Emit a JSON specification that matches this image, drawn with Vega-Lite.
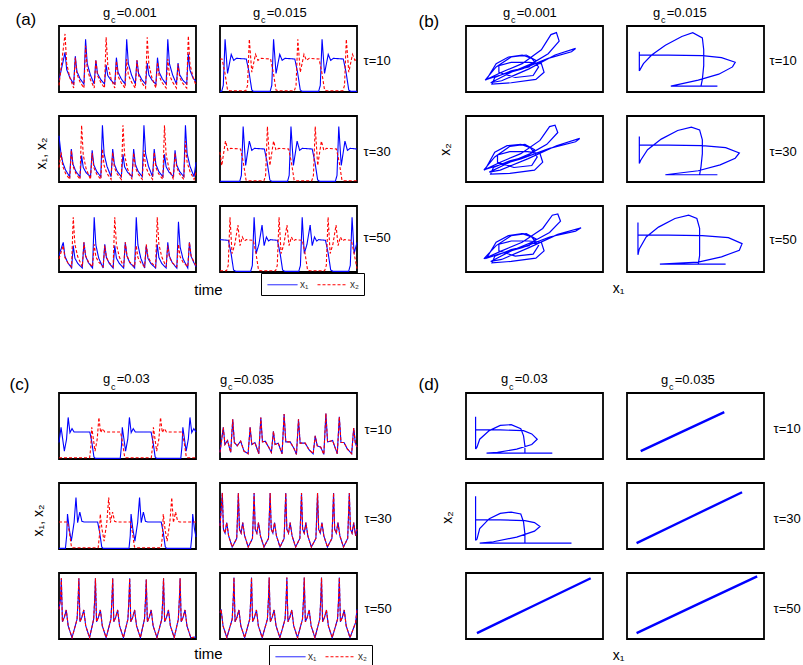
{
"$schema":"https://vega.github.io/schema/vega-lite/v6.json",
"background":"white",
"padding":{"left":8,"top":6,"right":0,"bottom":0},
"config":{
 "font":"Liberation Sans",
 "view":{"stroke":"#000","strokeWidth":1.8},
 "axis":{"domain":false,"ticks":false,"labels":false,"grid":false,"titleFontWeight":"normal","titleColor":"#000","titleFont":"Liberation Sans","titleFontSize":14},
 "title":{"fontWeight":"normal","fontSize":13,"font":"Liberation Sans","color":"#000","anchor":"start","frame":"group","offset":-5}
},
"datasets":{
"ts":[
{"p":"A11","t":0,"x1":0.18,"x2":0.10},{"p":"A11","t":4.4,"x1":0.60,"x2":0.88},{"p":"A11","t":5.6,"x1":0.34,"x2":0.43},{"p":"A11","t":7.9,"x1":0.22,"x2":0.22},{"p":"A11","t":10.7,"x1":0.12,"x2":0.06},
{"p":"A11","t":11.9,"x1":0.54,"x2":0.52},{"p":"A11","t":13.1,"x1":0.31,"x2":0.27},{"p":"A11","t":15.4,"x1":0.20,"x2":0.15},{"p":"A11","t":18.2,"x1":0.12,"x2":0.06},
{"p":"A11","t":19.4,"x1":0.80,"x2":0.70},{"p":"A11","t":20.6,"x1":0.43,"x2":0.35},{"p":"A11","t":22.9,"x1":0.26,"x2":0.19},{"p":"A11","t":25.7,"x1":0.12,"x2":0.06},
{"p":"A11","t":26.9,"x1":0.48,"x2":0.49},{"p":"A11","t":28.1,"x1":0.28,"x2":0.25},{"p":"A11","t":30.4,"x1":0.19,"x2":0.15},{"p":"A11","t":33.2,"x1":0.12,"x2":0.06},
{"p":"A11","t":34.4,"x1":0.41,"x2":0.83},{"p":"A11","t":35.6,"x1":0.25,"x2":0.41},{"p":"A11","t":37.9,"x1":0.18,"x2":0.21},{"p":"A11","t":40.7,"x1":0.12,"x2":0.06},
{"p":"A11","t":41.9,"x1":0.52,"x2":0.47},{"p":"A11","t":43.1,"x1":0.30,"x2":0.24},{"p":"A11","t":45.4,"x1":0.20,"x2":0.14},{"p":"A11","t":48.2,"x1":0.12,"x2":0.06},
{"p":"A11","t":49.4,"x1":0.80,"x2":0.50},{"p":"A11","t":50.6,"x1":0.43,"x2":0.26},{"p":"A11","t":52.9,"x1":0.26,"x2":0.15},{"p":"A11","t":55.7,"x1":0.12,"x2":0.06},
{"p":"A11","t":56.9,"x1":0.48,"x2":0.48},{"p":"A11","t":58.1,"x1":0.28,"x2":0.25},{"p":"A11","t":60.4,"x1":0.19,"x2":0.14},{"p":"A11","t":63.2,"x1":0.12,"x2":0.06},
{"p":"A11","t":64.4,"x1":0.44,"x2":0.83},{"p":"A11","t":65.6,"x1":0.26,"x2":0.41},{"p":"A11","t":67.9,"x1":0.18,"x2":0.21},{"p":"A11","t":70.7,"x1":0.12,"x2":0.06},
{"p":"A11","t":71.9,"x1":0.52,"x2":0.45},{"p":"A11","t":73.1,"x1":0.30,"x2":0.24},{"p":"A11","t":75.4,"x1":0.20,"x2":0.14},{"p":"A11","t":78.2,"x1":0.12,"x2":0.06},
{"p":"A11","t":79.4,"x1":0.80,"x2":0.50},{"p":"A11","t":80.6,"x1":0.43,"x2":0.26},{"p":"A11","t":82.9,"x1":0.26,"x2":0.15},{"p":"A11","t":85.7,"x1":0.12,"x2":0.06},
{"p":"A11","t":86.9,"x1":0.44,"x2":0.42},{"p":"A11","t":88.1,"x1":0.26,"x2":0.22},{"p":"A11","t":90.4,"x1":0.18,"x2":0.13},{"p":"A11","t":93.2,"x1":0.12,"x2":0.06},
{"p":"A11","t":94.4,"x1":0.58,"x2":0.85},{"p":"A11","t":95.6,"x1":0.33,"x2":0.42},{"p":"A11","t":97.9,"x1":0.21,"x2":0.22},{"p":"A11","t":100,"x1":0.16,"x2":0.10},

{"p":"A21","t":0,"x1":0.70,"x2":0.22},{"p":"A21","t":1.5,"x1":0.42,"x2":0.45},{"p":"A21","t":2.7,"x1":0.30,"x2":0.24},{"p":"A21","t":4.8,"x1":0.18,"x2":0.13},{"p":"A21","t":7.8,"x1":0.08,"x2":0.04},
{"p":"A21","t":9.0,"x1":0.50,"x2":0.48},{"p":"A21","t":10.2,"x1":0.27,"x2":0.24},{"p":"A21","t":12.3,"x1":0.16,"x2":0.13},{"p":"A21","t":15.3,"x1":0.08,"x2":0.04},
{"p":"A21","t":16.5,"x1":0.40,"x2":0.86},{"p":"A21","t":17.7,"x1":0.22,"x2":0.41},{"p":"A21","t":19.8,"x1":0.14,"x2":0.20},{"p":"A21","t":23.0,"x1":0.08,"x2":0.04},
{"p":"A21","t":24.2,"x1":0.48,"x2":0.44},{"p":"A21","t":25.4,"x1":0.26,"x2":0.22},{"p":"A21","t":27.5,"x1":0.16,"x2":0.12},{"p":"A21","t":30.5,"x1":0.08,"x2":0.04},
{"p":"A21","t":31.7,"x1":0.86,"x2":0.50},{"p":"A21","t":32.9,"x1":0.43,"x2":0.25},{"p":"A21","t":35.0,"x1":0.24,"x2":0.13},{"p":"A21","t":38.0,"x1":0.08,"x2":0.04},
{"p":"A21","t":39.2,"x1":0.50,"x2":0.45},{"p":"A21","t":40.4,"x1":0.27,"x2":0.22},{"p":"A21","t":42.5,"x1":0.16,"x2":0.12},{"p":"A21","t":45.5,"x1":0.08,"x2":0.04},
{"p":"A21","t":46.7,"x1":0.42,"x2":0.86},{"p":"A21","t":47.9,"x1":0.23,"x2":0.41},{"p":"A21","t":50.0,"x1":0.15,"x2":0.20},{"p":"A21","t":53.3,"x1":0.08,"x2":0.04},
{"p":"A21","t":54.5,"x1":0.50,"x2":0.44},{"p":"A21","t":55.7,"x1":0.27,"x2":0.22},{"p":"A21","t":57.8,"x1":0.16,"x2":0.12},{"p":"A21","t":60.8,"x1":0.08,"x2":0.04},
{"p":"A21","t":62.0,"x1":0.86,"x2":0.48},{"p":"A21","t":63.2,"x1":0.43,"x2":0.24},{"p":"A21","t":65.3,"x1":0.24,"x2":0.13},{"p":"A21","t":68.3,"x1":0.08,"x2":0.04},
{"p":"A21","t":69.5,"x1":0.50,"x2":0.45},{"p":"A21","t":70.7,"x1":0.27,"x2":0.22},{"p":"A21","t":72.8,"x1":0.16,"x2":0.12},{"p":"A21","t":75.8,"x1":0.08,"x2":0.04},
{"p":"A21","t":77.0,"x1":0.42,"x2":0.86},{"p":"A21","t":78.2,"x1":0.23,"x2":0.41},{"p":"A21","t":80.3,"x1":0.15,"x2":0.20},{"p":"A21","t":83.5,"x1":0.08,"x2":0.04},
{"p":"A21","t":84.7,"x1":0.48,"x2":0.44},{"p":"A21","t":85.9,"x1":0.26,"x2":0.22},{"p":"A21","t":88.0,"x1":0.16,"x2":0.12},{"p":"A21","t":91.1,"x1":0.08,"x2":0.04},
{"p":"A21","t":92.3,"x1":0.86,"x2":0.62},{"p":"A21","t":93.5,"x1":0.43,"x2":0.30},{"p":"A21","t":95.6,"x1":0.24,"x2":0.16},{"p":"A21","t":98.6,"x1":0.08,"x2":0.04},{"p":"A21","t":100,"x1":0.30,"x2":0.15},

{"p":"A31","t":0,"x1":0.25,"x2":0.20},{"p":"A31","t":3.1,"x1":0.45,"x2":0.40},{"p":"A31","t":4.3,"x1":0.24,"x2":0.22},{"p":"A31","t":6.4,"x1":0.14,"x2":0.14},{"p":"A31","t":9.2,"x1":0.06,"x2":0.08},
{"p":"A31","t":10.4,"x1":0.40,"x2":0.83},{"p":"A31","t":11.6,"x1":0.21,"x2":0.42},{"p":"A31","t":13.7,"x1":0.13,"x2":0.23},{"p":"A31","t":17.0,"x1":0.06,"x2":0.08},
{"p":"A31","t":18.2,"x1":0.45,"x2":0.45},{"p":"A31","t":19.4,"x1":0.24,"x2":0.25},{"p":"A31","t":21.5,"x1":0.14,"x2":0.15},{"p":"A31","t":24.5,"x1":0.06,"x2":0.08},
{"p":"A31","t":25.7,"x1":0.83,"x2":0.42},{"p":"A31","t":26.9,"x1":0.41,"x2":0.23},{"p":"A31","t":29.0,"x1":0.21,"x2":0.15},{"p":"A31","t":32.2,"x1":0.06,"x2":0.08},
{"p":"A31","t":33.4,"x1":0.42,"x2":0.40},{"p":"A31","t":34.6,"x1":0.22,"x2":0.22},{"p":"A31","t":36.7,"x1":0.13,"x2":0.14},{"p":"A31","t":39.5,"x1":0.06,"x2":0.08},
{"p":"A31","t":40.7,"x1":0.40,"x2":0.83},{"p":"A31","t":41.9,"x1":0.21,"x2":0.42},{"p":"A31","t":44.0,"x1":0.13,"x2":0.23},{"p":"A31","t":47.2,"x1":0.06,"x2":0.08},
{"p":"A31","t":48.4,"x1":0.45,"x2":0.45},{"p":"A31","t":49.6,"x1":0.24,"x2":0.25},{"p":"A31","t":51.7,"x1":0.14,"x2":0.15},{"p":"A31","t":55.2,"x1":0.06,"x2":0.08},
{"p":"A31","t":56.4,"x1":0.83,"x2":0.40},{"p":"A31","t":57.6,"x1":0.41,"x2":0.22},{"p":"A31","t":59.7,"x1":0.21,"x2":0.14},{"p":"A31","t":62.5,"x1":0.06,"x2":0.08},
{"p":"A31","t":63.7,"x1":0.40,"x2":0.42},{"p":"A31","t":64.9,"x1":0.21,"x2":0.23},{"p":"A31","t":67.0,"x1":0.13,"x2":0.15},{"p":"A31","t":70.5,"x1":0.06,"x2":0.08},
{"p":"A31","t":71.7,"x1":0.42,"x2":0.83},{"p":"A31","t":72.9,"x1":0.22,"x2":0.42},{"p":"A31","t":75.0,"x1":0.13,"x2":0.23},{"p":"A31","t":78.2,"x1":0.06,"x2":0.08},
{"p":"A31","t":79.4,"x1":0.45,"x2":0.40},{"p":"A31","t":80.6,"x1":0.24,"x2":0.22},{"p":"A31","t":82.7,"x1":0.14,"x2":0.14},{"p":"A31","t":86.0,"x1":0.06,"x2":0.08},
{"p":"A31","t":87.2,"x1":0.76,"x2":0.42},{"p":"A31","t":88.4,"x1":0.38,"x2":0.23},{"p":"A31","t":90.5,"x1":0.20,"x2":0.15},{"p":"A31","t":94.0,"x1":0.06,"x2":0.08},
{"p":"A31","t":95.2,"x1":0.45,"x2":0.45},{"p":"A31","t":96.4,"x1":0.24,"x2":0.25},{"p":"A31","t":98.5,"x1":0.14,"x2":0.15},{"p":"A31","t":100,"x1":0.08,"x2":0.10},

{"p":"A12","t":0,"x1":0.01},{"p":"A12","t":1.2,"x1":0.01},{"p":"A12","t":2.4,"x1":0.10},{"p":"A12","t":3.7,"x1":0.80},{"p":"A12","t":5.5,"x1":0.28},{"p":"A12","t":8.2,"x1":0.57},{"p":"A12","t":10,"x1":0.48},{"p":"A12","t":12,"x1":0.51},{"p":"A12","t":19.2,"x1":0.50},{"p":"A12","t":21.2,"x1":0.30},{"p":"A12","t":23.2,"x1":0.03},{"p":"A12","t":24.5,"x1":0.01},
{"p":"A12","t":36.6,"x1":0.01},{"p":"A12","t":37.8,"x1":0.10},{"p":"A12","t":39.1,"x1":0.80},{"p":"A12","t":40.9,"x1":0.28},{"p":"A12","t":43.6,"x1":0.57},{"p":"A12","t":45.4,"x1":0.48},{"p":"A12","t":47.4,"x1":0.51},{"p":"A12","t":54.6,"x1":0.50},{"p":"A12","t":56.6,"x1":0.30},{"p":"A12","t":58.6,"x1":0.03},{"p":"A12","t":60,"x1":0.01},
{"p":"A12","t":72,"x1":0.01},{"p":"A12","t":73.2,"x1":0.10},{"p":"A12","t":74.5,"x1":0.80},{"p":"A12","t":76.3,"x1":0.28},{"p":"A12","t":79,"x1":0.57},{"p":"A12","t":80.8,"x1":0.48},{"p":"A12","t":82.8,"x1":0.51},{"p":"A12","t":90,"x1":0.50},{"p":"A12","t":92,"x1":0.30},{"p":"A12","t":94,"x1":0.03},{"p":"A12","t":95.5,"x1":0.01},{"p":"A12","t":100,"x1":0.01},
{"p":"A12","t":0,"x2":0.50},{"p":"A12","t":1.5,"x2":0.50},{"p":"A12","t":3.5,"x2":0.30},{"p":"A12","t":5.5,"x2":0.03},{"p":"A12","t":7,"x2":0.02},{"p":"A12","t":18.9,"x2":0.02},{"p":"A12","t":20.1,"x2":0.10},{"p":"A12","t":21.4,"x2":0.80},{"p":"A12","t":23.2,"x2":0.30},{"p":"A12","t":25.9,"x2":0.57},{"p":"A12","t":27.7,"x2":0.48},{"p":"A12","t":29.7,"x2":0.51},{"p":"A12","t":36.9,"x2":0.50},{"p":"A12","t":38.9,"x2":0.30},{"p":"A12","t":40.9,"x2":0.03},{"p":"A12","t":42.4,"x2":0.02},
{"p":"A12","t":54.3,"x2":0.02},{"p":"A12","t":55.5,"x2":0.10},{"p":"A12","t":56.8,"x2":0.80},{"p":"A12","t":58.6,"x2":0.30},{"p":"A12","t":61.3,"x2":0.57},{"p":"A12","t":63.1,"x2":0.48},{"p":"A12","t":65.1,"x2":0.51},{"p":"A12","t":72.3,"x2":0.50},{"p":"A12","t":74.3,"x2":0.30},{"p":"A12","t":76.3,"x2":0.03},{"p":"A12","t":77.8,"x2":0.02},
{"p":"A12","t":89.7,"x2":0.02},{"p":"A12","t":90.9,"x2":0.10},{"p":"A12","t":92.2,"x2":0.80},{"p":"A12","t":94,"x2":0.30},{"p":"A12","t":96.7,"x2":0.57},{"p":"A12","t":98.5,"x2":0.48},{"p":"A12","t":100,"x2":0.50},

{"p":"A22","t":0,"x1":0.01},{"p":"A22","t":14.4,"x1":0.01},{"p":"A22","t":15.6,"x1":0.10},{"p":"A22","t":16.9,"x1":0.84},{"p":"A22","t":18.7,"x1":0.25},{"p":"A22","t":21.4,"x1":0.62},{"p":"A22","t":23.2,"x1":0.48},{"p":"A22","t":25.2,"x1":0.51},{"p":"A22","t":32.4,"x1":0.50},{"p":"A22","t":34.4,"x1":0.30},{"p":"A22","t":36.4,"x1":0.03},{"p":"A22","t":37.9,"x1":0.01},
{"p":"A22","t":49.3,"x1":0.01},{"p":"A22","t":50.5,"x1":0.10},{"p":"A22","t":51.8,"x1":0.84},{"p":"A22","t":53.6,"x1":0.25},{"p":"A22","t":56.3,"x1":0.62},{"p":"A22","t":58.1,"x1":0.48},{"p":"A22","t":60.1,"x1":0.51},{"p":"A22","t":67.3,"x1":0.50},{"p":"A22","t":69.3,"x1":0.30},{"p":"A22","t":71.3,"x1":0.03},{"p":"A22","t":72.8,"x1":0.01},
{"p":"A22","t":84.2,"x1":0.01},{"p":"A22","t":85.4,"x1":0.10},{"p":"A22","t":86.7,"x1":0.84},{"p":"A22","t":88.5,"x1":0.25},{"p":"A22","t":91.2,"x1":0.62},{"p":"A22","t":93,"x1":0.48},{"p":"A22","t":95,"x1":0.51},{"p":"A22","t":100,"x1":0.50},
{"p":"A22","t":0,"x2":0.45},{"p":"A22","t":1.3,"x2":0.25},{"p":"A22","t":4,"x2":0.62},{"p":"A22","t":5.8,"x2":0.48},{"p":"A22","t":7.8,"x2":0.51},{"p":"A22","t":15,"x2":0.50},{"p":"A22","t":17,"x2":0.30},{"p":"A22","t":19,"x2":0.03},{"p":"A22","t":20.5,"x2":0.02},
{"p":"A22","t":32.1,"x2":0.02},{"p":"A22","t":33.3,"x2":0.10},{"p":"A22","t":34.6,"x2":0.84},{"p":"A22","t":36.4,"x2":0.25},{"p":"A22","t":39.1,"x2":0.62},{"p":"A22","t":40.9,"x2":0.48},{"p":"A22","t":42.9,"x2":0.51},{"p":"A22","t":50.1,"x2":0.50},{"p":"A22","t":52.1,"x2":0.30},{"p":"A22","t":54.1,"x2":0.03},{"p":"A22","t":55.6,"x2":0.02},
{"p":"A22","t":67,"x2":0.02},{"p":"A22","t":68.2,"x2":0.10},{"p":"A22","t":69.5,"x2":0.84},{"p":"A22","t":71.3,"x2":0.25},{"p":"A22","t":74,"x2":0.62},{"p":"A22","t":75.8,"x2":0.48},{"p":"A22","t":77.8,"x2":0.51},{"p":"A22","t":85,"x2":0.50},{"p":"A22","t":87,"x2":0.30},{"p":"A22","t":89,"x2":0.03},{"p":"A22","t":90.5,"x2":0.02},{"p":"A22","t":100,"x2":0.02},

{"p":"A32","t":0,"x1":0.49},{"p":"A32","t":6.1,"x1":0.48},{"p":"A32","t":8.1,"x1":0.28},{"p":"A32","t":9.9,"x1":0.03},{"p":"A32","t":11.5,"x1":0.01},{"p":"A32","t":22.4,"x1":0.01},{"p":"A32","t":23.6,"x1":0.10},{"p":"A32","t":24.9,"x1":0.83},{"p":"A32","t":26.4,"x1":0.28},{"p":"A32","t":28.4,"x1":0.42},{"p":"A32","t":30.7,"x1":0.71},{"p":"A32","t":32.2,"x1":0.40},{"p":"A32","t":33.9,"x1":0.53},{"p":"A32","t":35.4,"x1":0.47},{"p":"A32","t":36.9,"x1":0.49},{"p":"A32","t":41.9,"x1":0.48},{"p":"A32","t":43.9,"x1":0.28},{"p":"A32","t":45.7,"x1":0.03},{"p":"A32","t":47.3,"x1":0.01},
{"p":"A32","t":57.5,"x1":0.01},{"p":"A32","t":58.7,"x1":0.10},{"p":"A32","t":60,"x1":0.83},{"p":"A32","t":61.5,"x1":0.28},{"p":"A32","t":63.5,"x1":0.42},{"p":"A32","t":65.8,"x1":0.71},{"p":"A32","t":67.3,"x1":0.40},{"p":"A32","t":69,"x1":0.53},{"p":"A32","t":70.5,"x1":0.47},{"p":"A32","t":72,"x1":0.49},{"p":"A32","t":77,"x1":0.48},{"p":"A32","t":79,"x1":0.28},{"p":"A32","t":80.8,"x1":0.03},{"p":"A32","t":82.4,"x1":0.01},{"p":"A32","t":93.9,"x1":0.01},{"p":"A32","t":95.1,"x1":0.10},{"p":"A32","t":96.4,"x1":0.83},{"p":"A32","t":97.9,"x1":0.28},{"p":"A32","t":100,"x1":0.45},
{"p":"A32","t":0,"x2":0.02},{"p":"A32","t":4.8,"x2":0.02},{"p":"A32","t":6,"x2":0.10},{"p":"A32","t":7.3,"x2":0.83},{"p":"A32","t":8.8,"x2":0.28},{"p":"A32","t":10.8,"x2":0.42},{"p":"A32","t":13.1,"x2":0.71},{"p":"A32","t":14.6,"x2":0.40},{"p":"A32","t":16.3,"x2":0.53},{"p":"A32","t":17.8,"x2":0.47},{"p":"A32","t":19.3,"x2":0.49},{"p":"A32","t":24.3,"x2":0.48},{"p":"A32","t":26.3,"x2":0.28},{"p":"A32","t":28.1,"x2":0.03},{"p":"A32","t":29.7,"x2":0.02},
{"p":"A32","t":40.6,"x2":0.02},{"p":"A32","t":41.8,"x2":0.10},{"p":"A32","t":43.1,"x2":0.83},{"p":"A32","t":44.6,"x2":0.28},{"p":"A32","t":46.6,"x2":0.42},{"p":"A32","t":48.9,"x2":0.71},{"p":"A32","t":50.4,"x2":0.40},{"p":"A32","t":52.1,"x2":0.53},{"p":"A32","t":53.6,"x2":0.47},{"p":"A32","t":55.1,"x2":0.49},{"p":"A32","t":60.1,"x2":0.48},{"p":"A32","t":62.1,"x2":0.28},{"p":"A32","t":63.9,"x2":0.03},{"p":"A32","t":65.5,"x2":0.02},
{"p":"A32","t":76.4,"x2":0.02},{"p":"A32","t":77.6,"x2":0.10},{"p":"A32","t":78.9,"x2":0.83},{"p":"A32","t":80.4,"x2":0.28},{"p":"A32","t":82.4,"x2":0.42},{"p":"A32","t":84.7,"x2":0.71},{"p":"A32","t":86.2,"x2":0.40},{"p":"A32","t":87.9,"x2":0.53},{"p":"A32","t":89.4,"x2":0.47},{"p":"A32","t":90.9,"x2":0.49},{"p":"A32","t":95.9,"x2":0.48},{"p":"A32","t":97.9,"x2":0.28},{"p":"A32","t":100,"x2":0.05},

{"p":"C11","t":0,"x1":0.25},{"p":"C11","t":1.5,"x1":0.48},{"p":"C11","t":2.7,"x1":0.30},{"p":"C11","t":3.9,"x1":0.12},{"p":"C11","t":5.5,"x1":0.30},{"p":"C11","t":6.7,"x1":0.63},{"p":"C11","t":8,"x1":0.40},{"p":"C11","t":9.5,"x1":0.46},{"p":"C11","t":11,"x1":0.41},{"p":"C11","t":22.5,"x1":0.41},{"p":"C11","t":24,"x1":0.25},{"p":"C11","t":25.5,"x1":0.03},{"p":"C11","t":26.5,"x1":0.01},
{"p":"C11","t":44.7,"x1":0.01},{"p":"C11","t":45.6,"x1":0.20},{"p":"C11","t":46.2,"x1":0.48},{"p":"C11","t":47.4,"x1":0.30},{"p":"C11","t":48.6,"x1":0.12},{"p":"C11","t":50.2,"x1":0.30},{"p":"C11","t":51.4,"x1":0.63},{"p":"C11","t":52.7,"x1":0.40},{"p":"C11","t":54.2,"x1":0.46},{"p":"C11","t":55.7,"x1":0.41},{"p":"C11","t":67.2,"x1":0.41},{"p":"C11","t":68.7,"x1":0.25},{"p":"C11","t":70.2,"x1":0.03},{"p":"C11","t":71.2,"x1":0.01},
{"p":"C11","t":88.9,"x1":0.01},{"p":"C11","t":89.8,"x1":0.20},{"p":"C11","t":90.4,"x1":0.48},{"p":"C11","t":91.6,"x1":0.30},{"p":"C11","t":92.8,"x1":0.12},{"p":"C11","t":94.4,"x1":0.30},{"p":"C11","t":95.6,"x1":0.63},{"p":"C11","t":96.9,"x1":0.40},{"p":"C11","t":98.4,"x1":0.46},{"p":"C11","t":100,"x1":0.41},
{"p":"C11","t":0,"x2":0.02},{"p":"C11","t":22.4,"x2":0.02},{"p":"C11","t":23.3,"x2":0.20},{"p":"C11","t":23.9,"x2":0.48},{"p":"C11","t":25.1,"x2":0.30},{"p":"C11","t":26.3,"x2":0.12},{"p":"C11","t":27.9,"x2":0.30},{"p":"C11","t":29.1,"x2":0.63},{"p":"C11","t":30.4,"x2":0.40},{"p":"C11","t":31.9,"x2":0.46},{"p":"C11","t":33.4,"x2":0.41},{"p":"C11","t":44.9,"x2":0.41},{"p":"C11","t":46.4,"x2":0.25},{"p":"C11","t":47.9,"x2":0.03},{"p":"C11","t":48.9,"x2":0.02},
{"p":"C11","t":67.4,"x2":0.02},{"p":"C11","t":68.3,"x2":0.20},{"p":"C11","t":68.9,"x2":0.48},{"p":"C11","t":70.1,"x2":0.30},{"p":"C11","t":71.3,"x2":0.12},{"p":"C11","t":72.9,"x2":0.30},{"p":"C11","t":74.1,"x2":0.63},{"p":"C11","t":75.4,"x2":0.40},{"p":"C11","t":76.9,"x2":0.46},{"p":"C11","t":78.4,"x2":0.41},{"p":"C11","t":89.9,"x2":0.41},{"p":"C11","t":91.4,"x2":0.25},{"p":"C11","t":92.9,"x2":0.03},{"p":"C11","t":93.9,"x2":0.02},{"p":"C11","t":100,"x2":0.02},

{"p":"C21","t":0,"x1":0.01},{"p":"C21","t":4.7,"x1":0.01},{"p":"C21","t":5.6,"x1":0.20},{"p":"C21","t":6.2,"x1":0.53},{"p":"C21","t":7.5,"x1":0.30},{"p":"C21","t":9,"x1":0.12},{"p":"C21","t":11,"x1":0.40},{"p":"C21","t":12.4,"x1":0.78},{"p":"C21","t":13.6,"x1":0.40},{"p":"C21","t":15.2,"x1":0.56},{"p":"C21","t":16.7,"x1":0.42},{"p":"C21","t":18.2,"x1":0.41},{"p":"C21","t":28.2,"x1":0.41},{"p":"C21","t":29.7,"x1":0.25},{"p":"C21","t":31.2,"x1":0.03},{"p":"C21","t":32.2,"x1":0.01},
{"p":"C21","t":51.1,"x1":0.01},{"p":"C21","t":52,"x1":0.20},{"p":"C21","t":52.6,"x1":0.53},{"p":"C21","t":53.9,"x1":0.30},{"p":"C21","t":55.4,"x1":0.12},{"p":"C21","t":57.4,"x1":0.40},{"p":"C21","t":58.8,"x1":0.78},{"p":"C21","t":60,"x1":0.40},{"p":"C21","t":61.6,"x1":0.56},{"p":"C21","t":63.1,"x1":0.42},{"p":"C21","t":64.6,"x1":0.41},{"p":"C21","t":74.6,"x1":0.41},{"p":"C21","t":76.1,"x1":0.25},{"p":"C21","t":77.6,"x1":0.03},{"p":"C21","t":78.6,"x1":0.01},
{"p":"C21","t":96.1,"x1":0.01},{"p":"C21","t":97,"x1":0.20},{"p":"C21","t":97.6,"x1":0.53},{"p":"C21","t":98.9,"x1":0.30},{"p":"C21","t":100,"x1":0.18},
{"p":"C21","t":0,"x2":0.41},{"p":"C21","t":6.1,"x2":0.41},{"p":"C21","t":7.6,"x2":0.25},{"p":"C21","t":9.1,"x2":0.03},{"p":"C21","t":10.1,"x2":0.02},{"p":"C21","t":28.6,"x2":0.02},{"p":"C21","t":29.5,"x2":0.20},{"p":"C21","t":30.1,"x2":0.53},{"p":"C21","t":31.4,"x2":0.30},{"p":"C21","t":32.9,"x2":0.12},{"p":"C21","t":34.9,"x2":0.40},{"p":"C21","t":36.3,"x2":0.78},{"p":"C21","t":37.5,"x2":0.40},{"p":"C21","t":39.1,"x2":0.56},{"p":"C21","t":40.6,"x2":0.42},{"p":"C21","t":42.1,"x2":0.41},{"p":"C21","t":52.1,"x2":0.41},{"p":"C21","t":53.6,"x2":0.25},{"p":"C21","t":55.1,"x2":0.03},{"p":"C21","t":56.1,"x2":0.02},
{"p":"C21","t":74.6,"x2":0.02},{"p":"C21","t":75.5,"x2":0.20},{"p":"C21","t":76.1,"x2":0.53},{"p":"C21","t":77.4,"x2":0.30},{"p":"C21","t":78.9,"x2":0.12},{"p":"C21","t":80.9,"x2":0.40},{"p":"C21","t":82.3,"x2":0.78},{"p":"C21","t":83.5,"x2":0.40},{"p":"C21","t":85.1,"x2":0.56},{"p":"C21","t":86.6,"x2":0.42},{"p":"C21","t":88.1,"x2":0.41},{"p":"C21","t":100,"x2":0.41},

{"p":"C12","t":0,"x1":0.10,"x2":0.10},{"p":"C12","t":2.4,"x1":0.48,"x2":0.48},{"p":"C12","t":3.6,"x1":0.22,"x2":0.22},{"p":"C12","t":5.5,"x1":0.28,"x2":0.28},{"p":"C12","t":7.8,"x1":0.10,"x2":0.10},{"p":"C12","t":9.3,"x1":0.60,"x2":0.60},{"p":"C12","t":10.5,"x1":0.25,"x2":0.25},{"p":"C12","t":12.5,"x1":0.20,"x2":0.20},{"p":"C12","t":15.1,"x1":0.27,"x2":0.27},{"p":"C12","t":17.5,"x1":0.12,"x2":0.12},{"p":"C12","t":20.5,"x1":0.08,"x2":0.08},
{"p":"C12","t":22,"x1":0.48,"x2":0.48},{"p":"C12","t":23.2,"x1":0.22,"x2":0.22},{"p":"C12","t":25.5,"x1":0.25,"x2":0.25},{"p":"C12","t":28.3,"x1":0.08,"x2":0.08},{"p":"C12","t":29.8,"x1":0.63,"x2":0.63},{"p":"C12","t":31,"x1":0.26,"x2":0.26},{"p":"C12","t":33,"x1":0.27,"x2":0.27},{"p":"C12","t":35.5,"x1":0.18,"x2":0.18},{"p":"C12","t":37.5,"x1":0.10,"x2":0.10},
{"p":"C12","t":39,"x1":0.42,"x2":0.42},{"p":"C12","t":40.2,"x1":0.22,"x2":0.22},{"p":"C12","t":42.5,"x1":0.24,"x2":0.24},{"p":"C12","t":45.3,"x1":0.08,"x2":0.08},{"p":"C12","t":46.8,"x1":0.68,"x2":0.68},{"p":"C12","t":48,"x1":0.26,"x2":0.26},{"p":"C12","t":51.2,"x1":0.26,"x2":0.26},{"p":"C12","t":54,"x1":0.16,"x2":0.16},{"p":"C12","t":55.8,"x1":0.07,"x2":0.07},
{"p":"C12","t":57.3,"x1":0.60,"x2":0.60},{"p":"C12","t":58.5,"x1":0.24,"x2":0.24},{"p":"C12","t":62.2,"x1":0.24,"x2":0.24},{"p":"C12","t":65,"x1":0.14,"x2":0.14},{"p":"C12","t":68,"x1":0.08,"x2":0.08},{"p":"C12","t":69.5,"x1":0.35,"x2":0.35},{"p":"C12","t":71,"x1":0.20,"x2":0.20},{"p":"C12","t":73.5,"x1":0.18,"x2":0.18},{"p":"C12","t":75.8,"x1":0.07,"x2":0.07},
{"p":"C12","t":77.3,"x1":0.69,"x2":0.69},{"p":"C12","t":78.5,"x1":0.26,"x2":0.26},{"p":"C12","t":82.2,"x1":0.28,"x2":0.28},{"p":"C12","t":85.6,"x1":0.08,"x2":0.08},{"p":"C12","t":87.1,"x1":0.64,"x2":0.64},{"p":"C12","t":88.3,"x1":0.25,"x2":0.25},{"p":"C12","t":90.5,"x1":0.25,"x2":0.25},{"p":"C12","t":93,"x1":0.15,"x2":0.15},{"p":"C12","t":96.1,"x1":0.08,"x2":0.08},
{"p":"C12","t":97.6,"x1":0.47,"x2":0.47},{"p":"C12","t":98.8,"x1":0.24,"x2":0.24},{"p":"C12","t":100,"x1":0.18,"x2":0.18},

{"p":"C22","t":0,"x1":0.35,"x2":0.35},{"p":"C22","t":1.7,"x1":0.85,"x2":0.85},{"p":"C22","t":2.5,"x1":0.30,"x2":0.30},{"p":"C22","t":3.7,"x1":0.24,"x2":0.24},{"p":"C22","t":4.9,"x1":0.40,"x2":0.40},{"p":"C22","t":6.3,"x1":0.20,"x2":0.20},{"p":"C22","t":8.9,"x1":0.03,"x2":0.03},{"p":"C22","t":12.2,"x1":0.16,"x2":0.16},
{"p":"C22","t":13.4,"x1":0.85,"x2":0.85},{"p":"C22","t":14.2,"x1":0.30,"x2":0.30},{"p":"C22","t":15.4,"x1":0.24,"x2":0.24},{"p":"C22","t":16.6,"x1":0.40,"x2":0.40},{"p":"C22","t":18,"x1":0.20,"x2":0.20},{"p":"C22","t":20.6,"x1":0.03,"x2":0.03},{"p":"C22","t":23.7,"x1":0.16,"x2":0.16},
{"p":"C22","t":24.9,"x1":0.85,"x2":0.85},{"p":"C22","t":25.7,"x1":0.30,"x2":0.30},{"p":"C22","t":26.9,"x1":0.24,"x2":0.24},{"p":"C22","t":28.1,"x1":0.40,"x2":0.40},{"p":"C22","t":29.5,"x1":0.20,"x2":0.20},{"p":"C22","t":32.1,"x1":0.03,"x2":0.03},{"p":"C22","t":35.4,"x1":0.16,"x2":0.16},
{"p":"C22","t":36.6,"x1":0.85,"x2":0.85},{"p":"C22","t":37.4,"x1":0.30,"x2":0.30},{"p":"C22","t":38.6,"x1":0.24,"x2":0.24},{"p":"C22","t":39.8,"x1":0.40,"x2":0.40},{"p":"C22","t":41.2,"x1":0.20,"x2":0.20},{"p":"C22","t":43.8,"x1":0.03,"x2":0.03},{"p":"C22","t":46.8,"x1":0.16,"x2":0.16},
{"p":"C22","t":48,"x1":0.85,"x2":0.85},{"p":"C22","t":48.8,"x1":0.30,"x2":0.30},{"p":"C22","t":50,"x1":0.24,"x2":0.24},{"p":"C22","t":51.2,"x1":0.40,"x2":0.40},{"p":"C22","t":52.6,"x1":0.20,"x2":0.20},{"p":"C22","t":55.2,"x1":0.03,"x2":0.03},{"p":"C22","t":58.3,"x1":0.16,"x2":0.16},
{"p":"C22","t":59.5,"x1":0.85,"x2":0.85},{"p":"C22","t":60.3,"x1":0.30,"x2":0.30},{"p":"C22","t":61.5,"x1":0.24,"x2":0.24},{"p":"C22","t":62.7,"x1":0.40,"x2":0.40},{"p":"C22","t":64.1,"x1":0.20,"x2":0.20},{"p":"C22","t":66.7,"x1":0.03,"x2":0.03},{"p":"C22","t":70,"x1":0.16,"x2":0.16},
{"p":"C22","t":71.2,"x1":0.85,"x2":0.85},{"p":"C22","t":72,"x1":0.30,"x2":0.30},{"p":"C22","t":73.2,"x1":0.24,"x2":0.24},{"p":"C22","t":74.4,"x1":0.40,"x2":0.40},{"p":"C22","t":75.8,"x1":0.20,"x2":0.20},{"p":"C22","t":78.4,"x1":0.03,"x2":0.03},{"p":"C22","t":81.7,"x1":0.16,"x2":0.16},
{"p":"C22","t":82.9,"x1":0.85,"x2":0.85},{"p":"C22","t":83.7,"x1":0.30,"x2":0.30},{"p":"C22","t":84.9,"x1":0.24,"x2":0.24},{"p":"C22","t":86.1,"x1":0.40,"x2":0.40},{"p":"C22","t":87.5,"x1":0.20,"x2":0.20},{"p":"C22","t":90.1,"x1":0.03,"x2":0.03},{"p":"C22","t":93.2,"x1":0.16,"x2":0.16},
{"p":"C22","t":94.4,"x1":0.85,"x2":0.85},{"p":"C22","t":95.2,"x1":0.30,"x2":0.30},{"p":"C22","t":96.4,"x1":0.24,"x2":0.24},{"p":"C22","t":97.6,"x1":0.40,"x2":0.40},{"p":"C22","t":99,"x1":0.20,"x2":0.20},{"p":"C22","t":100,"x1":0.30,"x2":0.30},

{"p":"C31","t":0,"x1":0.45,"x2":0.45},{"p":"C31","t":1.2,"x1":0.62,"x2":0.62},{"p":"C31","t":1.7,"x1":0.92,"x2":0.92},{"p":"C31","t":2.5,"x1":0.26,"x2":0.26},{"p":"C31","t":3.9,"x1":0.33,"x2":0.33},{"p":"C31","t":5.3,"x1":0.44,"x2":0.44},{"p":"C31","t":6.7,"x1":0.20,"x2":0.20},{"p":"C31","t":9.5,"x1":0.02,"x2":0.02},
{"p":"C31","t":13.2,"x1":0.30,"x2":0.30},{"p":"C31","t":14,"x1":0.62,"x2":0.62},{"p":"C31","t":14.5,"x1":0.92,"x2":0.92},{"p":"C31","t":15.3,"x1":0.26,"x2":0.26},{"p":"C31","t":16.7,"x1":0.33,"x2":0.33},{"p":"C31","t":18.1,"x1":0.44,"x2":0.44},{"p":"C31","t":19.5,"x1":0.20,"x2":0.20},{"p":"C31","t":22.3,"x1":0.02,"x2":0.02},
{"p":"C31","t":25.3,"x1":0.30,"x2":0.30},{"p":"C31","t":26.1,"x1":0.62,"x2":0.62},{"p":"C31","t":26.6,"x1":0.92,"x2":0.92},{"p":"C31","t":27.4,"x1":0.26,"x2":0.26},{"p":"C31","t":28.8,"x1":0.33,"x2":0.33},{"p":"C31","t":30.2,"x1":0.44,"x2":0.44},{"p":"C31","t":31.6,"x1":0.20,"x2":0.20},{"p":"C31","t":34.4,"x1":0.02,"x2":0.02},
{"p":"C31","t":37.9,"x1":0.30,"x2":0.30},{"p":"C31","t":38.7,"x1":0.62,"x2":0.62},{"p":"C31","t":39.2,"x1":0.92,"x2":0.92},{"p":"C31","t":40,"x1":0.26,"x2":0.26},{"p":"C31","t":41.4,"x1":0.33,"x2":0.33},{"p":"C31","t":42.8,"x1":0.44,"x2":0.44},{"p":"C31","t":44.2,"x1":0.20,"x2":0.20},{"p":"C31","t":47,"x1":0.02,"x2":0.02},
{"p":"C31","t":50.3,"x1":0.30,"x2":0.30},{"p":"C31","t":51.1,"x1":0.62,"x2":0.62},{"p":"C31","t":51.6,"x1":0.92,"x2":0.92},{"p":"C31","t":52.4,"x1":0.26,"x2":0.26},{"p":"C31","t":53.8,"x1":0.33,"x2":0.33},{"p":"C31","t":55.2,"x1":0.44,"x2":0.44},{"p":"C31","t":56.6,"x1":0.20,"x2":0.20},{"p":"C31","t":59.4,"x1":0.02,"x2":0.02},
{"p":"C31","t":62.4,"x1":0.30,"x2":0.30},{"p":"C31","t":63.2,"x1":0.62,"x2":0.62},{"p":"C31","t":63.7,"x1":0.90,"x2":0.90},{"p":"C31","t":64.5,"x1":0.26,"x2":0.26},{"p":"C31","t":65.9,"x1":0.33,"x2":0.33},{"p":"C31","t":67.3,"x1":0.44,"x2":0.44},{"p":"C31","t":68.7,"x1":0.20,"x2":0.20},{"p":"C31","t":71.5,"x1":0.02,"x2":0.02},
{"p":"C31","t":75,"x1":0.30,"x2":0.30},{"p":"C31","t":75.8,"x1":0.62,"x2":0.62},{"p":"C31","t":76.3,"x1":0.92,"x2":0.92},{"p":"C31","t":77.1,"x1":0.26,"x2":0.26},{"p":"C31","t":78.5,"x1":0.33,"x2":0.33},{"p":"C31","t":79.9,"x1":0.44,"x2":0.44},{"p":"C31","t":81.3,"x1":0.20,"x2":0.20},{"p":"C31","t":84.1,"x1":0.02,"x2":0.02},
{"p":"C31","t":87.1,"x1":0.30,"x2":0.30},{"p":"C31","t":87.9,"x1":0.62,"x2":0.62},{"p":"C31","t":88.4,"x1":0.92,"x2":0.92},{"p":"C31","t":89.2,"x1":0.26,"x2":0.26},{"p":"C31","t":90.6,"x1":0.33,"x2":0.33},{"p":"C31","t":92,"x1":0.44,"x2":0.44},{"p":"C31","t":93.4,"x1":0.20,"x2":0.20},{"p":"C31","t":96.2,"x1":0.02,"x2":0.02},{"p":"C31","t":100,"x1":0.03,"x2":0.03},

{"p":"C32","t":0,"x1":0.40,"x2":0.40},{"p":"C32","t":0.8,"x1":0.45,"x2":0.45},{"p":"C32","t":2.2,"x1":0.20,"x2":0.20},{"p":"C32","t":5,"x1":0.02,"x2":0.02},
{"p":"C32","t":8.9,"x1":0.30,"x2":0.30},{"p":"C32","t":9.7,"x1":0.62,"x2":0.62},{"p":"C32","t":10.2,"x1":0.93,"x2":0.93},{"p":"C32","t":11,"x1":0.26,"x2":0.26},{"p":"C32","t":12.4,"x1":0.33,"x2":0.33},{"p":"C32","t":13.8,"x1":0.44,"x2":0.44},{"p":"C32","t":15.2,"x1":0.20,"x2":0.20},{"p":"C32","t":18,"x1":0.02,"x2":0.02},
{"p":"C32","t":21.7,"x1":0.30,"x2":0.30},{"p":"C32","t":22.5,"x1":0.62,"x2":0.62},{"p":"C32","t":23,"x1":0.93,"x2":0.93},{"p":"C32","t":23.8,"x1":0.26,"x2":0.26},{"p":"C32","t":25.2,"x1":0.33,"x2":0.33},{"p":"C32","t":26.6,"x1":0.44,"x2":0.44},{"p":"C32","t":28,"x1":0.20,"x2":0.20},{"p":"C32","t":30.8,"x1":0.02,"x2":0.02},
{"p":"C32","t":34.6,"x1":0.30,"x2":0.30},{"p":"C32","t":35.4,"x1":0.62,"x2":0.62},{"p":"C32","t":35.9,"x1":0.93,"x2":0.93},{"p":"C32","t":36.7,"x1":0.26,"x2":0.26},{"p":"C32","t":38.1,"x1":0.33,"x2":0.33},{"p":"C32","t":39.5,"x1":0.44,"x2":0.44},{"p":"C32","t":40.9,"x1":0.20,"x2":0.20},{"p":"C32","t":43.7,"x1":0.02,"x2":0.02},
{"p":"C32","t":47.5,"x1":0.30,"x2":0.30},{"p":"C32","t":48.3,"x1":0.62,"x2":0.62},{"p":"C32","t":48.8,"x1":0.93,"x2":0.93},{"p":"C32","t":49.6,"x1":0.26,"x2":0.26},{"p":"C32","t":51,"x1":0.33,"x2":0.33},{"p":"C32","t":52.4,"x1":0.44,"x2":0.44},{"p":"C32","t":53.8,"x1":0.20,"x2":0.20},{"p":"C32","t":56.6,"x1":0.02,"x2":0.02},
{"p":"C32","t":60.2,"x1":0.30,"x2":0.30},{"p":"C32","t":61,"x1":0.62,"x2":0.62},{"p":"C32","t":61.5,"x1":0.93,"x2":0.93},{"p":"C32","t":62.3,"x1":0.26,"x2":0.26},{"p":"C32","t":63.7,"x1":0.33,"x2":0.33},{"p":"C32","t":65.1,"x1":0.44,"x2":0.44},{"p":"C32","t":66.5,"x1":0.20,"x2":0.20},{"p":"C32","t":69.3,"x1":0.02,"x2":0.02},
{"p":"C32","t":72.8,"x1":0.30,"x2":0.30},{"p":"C32","t":73.6,"x1":0.62,"x2":0.62},{"p":"C32","t":74.1,"x1":0.93,"x2":0.93},{"p":"C32","t":74.9,"x1":0.26,"x2":0.26},{"p":"C32","t":76.3,"x1":0.33,"x2":0.33},{"p":"C32","t":77.7,"x1":0.44,"x2":0.44},{"p":"C32","t":79.1,"x1":0.20,"x2":0.20},{"p":"C32","t":81.9,"x1":0.02,"x2":0.02},
{"p":"C32","t":85.8,"x1":0.30,"x2":0.30},{"p":"C32","t":86.6,"x1":0.62,"x2":0.62},{"p":"C32","t":87.1,"x1":0.93,"x2":0.93},{"p":"C32","t":87.9,"x1":0.26,"x2":0.26},{"p":"C32","t":89.3,"x1":0.33,"x2":0.33},{"p":"C32","t":90.7,"x1":0.44,"x2":0.44},{"p":"C32","t":92.1,"x1":0.20,"x2":0.20},{"p":"C32","t":94.9,"x1":0.02,"x2":0.02},{"p":"C32","t":99,"x1":0.25,"x2":0.25},{"p":"C32","t":100,"x1":0.45,"x2":0.45}
],
"ph":[
{"p":"B11","i":0,"x":0.14,"y":0.18},{"p":"B11","i":1,"x":0.26,"y":0.30},{"p":"B11","i":2,"x":0.41,"y":0.43},{"p":"B11","i":3,"x":0.55,"y":0.64},{"p":"B11","i":4,"x":0.62,"y":0.87},{"p":"B11","i":5,"x":0.66,"y":0.90},{"p":"B11","i":6,"x":0.68,"y":0.77},{"p":"B11","i":7,"x":0.60,"y":0.58},{"p":"B11","i":8,"x":0.48,"y":0.43},{"p":"B11","i":9,"x":0.33,"y":0.30},{"p":"B11","i":10,"x":0.18,"y":0.14},
{"p":"B11","i":11,"x":0.26,"y":0.17},{"p":"B11","i":12,"x":0.46,"y":0.35},{"p":"B11","i":13,"x":0.65,"y":0.56},{"p":"B11","i":14,"x":0.80,"y":0.66},{"p":"B11","i":15,"x":0.77,"y":0.61},{"p":"B11","i":16,"x":0.60,"y":0.51},{"p":"B11","i":17,"x":0.41,"y":0.35},{"p":"B11","i":18,"x":0.24,"y":0.25},{"p":"B11","i":19,"x":0.15,"y":0.19},{"p":"B11","i":20,"x":0.22,"y":0.43},
{"p":"B11","i":21,"x":0.31,"y":0.53},{"p":"B11","i":22,"x":0.41,"y":0.56},{"p":"B11","i":23,"x":0.48,"y":0.51},{"p":"B11","i":24,"x":0.53,"y":0.38},{"p":"B11","i":25,"x":0.49,"y":0.25},{"p":"B11","i":26,"x":0.36,"y":0.22},{"p":"B11","i":27,"x":0.24,"y":0.30},{"p":"B11","i":28,"x":0.24,"y":0.40},{"p":"B11","i":29,"x":0.33,"y":0.45},{"p":"B11","i":30,"x":0.46,"y":0.45},
{"p":"B11","i":31,"x":0.55,"y":0.43},{"p":"B11","i":32,"x":0.57,"y":0.30},{"p":"B11","i":33,"x":0.51,"y":0.19},{"p":"B11","i":34,"x":0.33,"y":0.14},{"p":"B11","i":35,"x":0.19,"y":0.12},{"p":"B11","i":36,"x":0.21,"y":0.22},{"p":"B11","i":37,"x":0.33,"y":0.32},{"p":"B11","i":38,"x":0.46,"y":0.38},{"p":"B11","i":39,"x":0.51,"y":0.48},{"p":"B11","i":40,"x":0.44,"y":0.56},
{"p":"B11","i":41,"x":0.33,"y":0.53},{"p":"B11","i":42,"x":0.22,"y":0.38},{"p":"B11","i":43,"x":0.14,"y":0.18},

{"p":"B21","i":0,"x":0.13,"y":0.18},{"p":"B21","i":1,"x":0.25,"y":0.30},{"p":"B21","i":2,"x":0.40,"y":0.43},{"p":"B21","i":3,"x":0.54,"y":0.63},{"p":"B21","i":4,"x":0.61,"y":0.84},{"p":"B21","i":5,"x":0.65,"y":0.86},{"p":"B21","i":6,"x":0.67,"y":0.75},{"p":"B21","i":7,"x":0.59,"y":0.57},{"p":"B21","i":8,"x":0.47,"y":0.43},{"p":"B21","i":9,"x":0.32,"y":0.30},{"p":"B21","i":10,"x":0.17,"y":0.15},
{"p":"B21","i":11,"x":0.25,"y":0.18},{"p":"B21","i":12,"x":0.45,"y":0.35},{"p":"B21","i":13,"x":0.66,"y":0.55},{"p":"B21","i":14,"x":0.83,"y":0.66},{"p":"B21","i":15,"x":0.80,"y":0.61},{"p":"B21","i":16,"x":0.61,"y":0.51},{"p":"B21","i":17,"x":0.40,"y":0.35},{"p":"B21","i":18,"x":0.23,"y":0.25},{"p":"B21","i":19,"x":0.14,"y":0.19},{"p":"B21","i":20,"x":0.21,"y":0.45},
{"p":"B21","i":21,"x":0.30,"y":0.55},{"p":"B21","i":22,"x":0.40,"y":0.57},{"p":"B21","i":23,"x":0.47,"y":0.52},{"p":"B21","i":24,"x":0.52,"y":0.38},{"p":"B21","i":25,"x":0.48,"y":0.25},{"p":"B21","i":26,"x":0.35,"y":0.22},{"p":"B21","i":27,"x":0.23,"y":0.30},{"p":"B21","i":28,"x":0.23,"y":0.41},{"p":"B21","i":29,"x":0.32,"y":0.46},{"p":"B21","i":30,"x":0.45,"y":0.46},
{"p":"B21","i":31,"x":0.54,"y":0.43},{"p":"B21","i":32,"x":0.56,"y":0.30},{"p":"B21","i":33,"x":0.50,"y":0.18},{"p":"B21","i":34,"x":0.32,"y":0.13},{"p":"B21","i":35,"x":0.18,"y":0.12},{"p":"B21","i":36,"x":0.20,"y":0.22},{"p":"B21","i":37,"x":0.32,"y":0.32},{"p":"B21","i":38,"x":0.45,"y":0.39},{"p":"B21","i":39,"x":0.50,"y":0.49},{"p":"B21","i":40,"x":0.43,"y":0.57},
{"p":"B21","i":41,"x":0.32,"y":0.54},{"p":"B21","i":42,"x":0.21,"y":0.38},{"p":"B21","i":43,"x":0.13,"y":0.18},

{"p":"B31","i":0,"x":0.13,"y":0.20},{"p":"B31","i":1,"x":0.26,"y":0.32},{"p":"B31","i":2,"x":0.41,"y":0.45},{"p":"B31","i":3,"x":0.56,"y":0.66},{"p":"B31","i":4,"x":0.63,"y":0.86},{"p":"B31","i":5,"x":0.67,"y":0.88},{"p":"B31","i":6,"x":0.69,"y":0.77},{"p":"B31","i":7,"x":0.61,"y":0.60},{"p":"B31","i":8,"x":0.48,"y":0.45},{"p":"B31","i":9,"x":0.33,"y":0.32},{"p":"B31","i":10,"x":0.18,"y":0.16},
{"p":"B31","i":11,"x":0.26,"y":0.19},{"p":"B31","i":12,"x":0.46,"y":0.37},{"p":"B31","i":13,"x":0.67,"y":0.57},{"p":"B31","i":14,"x":0.84,"y":0.67},{"p":"B31","i":15,"x":0.80,"y":0.62},{"p":"B31","i":16,"x":0.61,"y":0.53},{"p":"B31","i":17,"x":0.41,"y":0.37},{"p":"B31","i":18,"x":0.24,"y":0.27},{"p":"B31","i":19,"x":0.15,"y":0.21},{"p":"B31","i":20,"x":0.22,"y":0.45},
{"p":"B31","i":21,"x":0.31,"y":0.55},{"p":"B31","i":22,"x":0.41,"y":0.58},{"p":"B31","i":23,"x":0.48,"y":0.53},{"p":"B31","i":24,"x":0.53,"y":0.40},{"p":"B31","i":25,"x":0.49,"y":0.27},{"p":"B31","i":26,"x":0.36,"y":0.24},{"p":"B31","i":27,"x":0.24,"y":0.32},{"p":"B31","i":28,"x":0.24,"y":0.42},{"p":"B31","i":29,"x":0.33,"y":0.47},{"p":"B31","i":30,"x":0.46,"y":0.47},
{"p":"B31","i":31,"x":0.55,"y":0.45},{"p":"B31","i":32,"x":0.57,"y":0.32},{"p":"B31","i":33,"x":0.51,"y":0.21},{"p":"B31","i":34,"x":0.33,"y":0.16},{"p":"B31","i":35,"x":0.19,"y":0.14},{"p":"B31","i":36,"x":0.21,"y":0.24},{"p":"B31","i":37,"x":0.33,"y":0.34},{"p":"B31","i":38,"x":0.46,"y":0.40},{"p":"B31","i":39,"x":0.51,"y":0.50},{"p":"B31","i":40,"x":0.44,"y":0.58},
{"p":"B31","i":41,"x":0.33,"y":0.55},{"p":"B31","i":42,"x":0.22,"y":0.40},{"p":"B31","i":43,"x":0.13,"y":0.20},

{"p":"B12","i":0,"x":0.09,"y":0.32},{"p":"B12","i":1,"x":0.09,"y":0.61},{"p":"B12","i":2,"x":0.09,"y":0.56},{"p":"B12","i":3,"x":0.30,"y":0.56},{"p":"B12","i":4,"x":0.55,"y":0.55},{"p":"B12","i":5,"x":0.69,"y":0.52},{"p":"B12","i":6,"x":0.79,"y":0.45},{"p":"B12","i":7,"x":0.77,"y":0.38},{"p":"B12","i":8,"x":0.67,"y":0.27},{"p":"B12","i":9,"x":0.52,"y":0.18},{"p":"B12","i":10,"x":0.32,"y":0.09},
{"p":"B12","i":11,"x":0.66,"y":0.09},{"p":"B12","i":12,"x":0.54,"y":0.09},{"p":"B12","i":13,"x":0.55,"y":0.19},{"p":"B12","i":14,"x":0.56,"y":0.40},{"p":"B12","i":15,"x":0.56,"y":0.64},{"p":"B12","i":16,"x":0.55,"y":0.82},{"p":"B12","i":17,"x":0.48,"y":0.90},{"p":"B12","i":18,"x":0.40,"y":0.84},{"p":"B12","i":19,"x":0.28,"y":0.71},{"p":"B12","i":20,"x":0.18,"y":0.56},{"p":"B12","i":21,"x":0.12,"y":0.43},{"p":"B12","i":22,"x":0.09,"y":0.32},

{"p":"B22","i":0,"x":0.09,"y":0.28},{"p":"B22","i":1,"x":0.09,"y":0.69},{"p":"B22","i":2,"x":0.09,"y":0.56},{"p":"B22","i":3,"x":0.30,"y":0.56},{"p":"B22","i":4,"x":0.55,"y":0.55},{"p":"B22","i":5,"x":0.72,"y":0.52},{"p":"B22","i":6,"x":0.82,"y":0.44},{"p":"B22","i":7,"x":0.79,"y":0.36},{"p":"B22","i":8,"x":0.68,"y":0.26},{"p":"B22","i":9,"x":0.52,"y":0.17},{"p":"B22","i":10,"x":0.28,"y":0.11},
{"p":"B22","i":11,"x":0.66,"y":0.11},{"p":"B22","i":12,"x":0.53,"y":0.11},{"p":"B22","i":13,"x":0.54,"y":0.23},{"p":"B22","i":14,"x":0.55,"y":0.43},{"p":"B22","i":15,"x":0.55,"y":0.64},{"p":"B22","i":16,"x":0.53,"y":0.79},{"p":"B22","i":17,"x":0.47,"y":0.83},{"p":"B22","i":18,"x":0.37,"y":0.78},{"p":"B22","i":19,"x":0.25,"y":0.65},{"p":"B22","i":20,"x":0.15,"y":0.49},{"p":"B22","i":21,"x":0.10,"y":0.33},{"p":"B22","i":22,"x":0.09,"y":0.28},

{"p":"B32","i":0,"x":0.08,"y":0.26},{"p":"B32","i":1,"x":0.08,"y":0.75},{"p":"B32","i":2,"x":0.08,"y":0.56},{"p":"B32","i":3,"x":0.30,"y":0.56},{"p":"B32","i":4,"x":0.55,"y":0.55},{"p":"B32","i":5,"x":0.74,"y":0.52},{"p":"B32","i":6,"x":0.84,"y":0.43},{"p":"B32","i":7,"x":0.82,"y":0.33},{"p":"B32","i":8,"x":0.69,"y":0.23},{"p":"B32","i":9,"x":0.52,"y":0.15},{"p":"B32","i":10,"x":0.24,"y":0.12},
{"p":"B32","i":11,"x":0.72,"y":0.12},{"p":"B32","i":12,"x":0.52,"y":0.12},{"p":"B32","i":13,"x":0.53,"y":0.25},{"p":"B32","i":14,"x":0.53,"y":0.46},{"p":"B32","i":15,"x":0.53,"y":0.66},{"p":"B32","i":16,"x":0.51,"y":0.81},{"p":"B32","i":17,"x":0.45,"y":0.86},{"p":"B32","i":18,"x":0.35,"y":0.81},{"p":"B32","i":19,"x":0.23,"y":0.68},{"p":"B32","i":20,"x":0.14,"y":0.53},{"p":"B32","i":21,"x":0.09,"y":0.35},{"p":"B32","i":22,"x":0.08,"y":0.26},

{"p":"D11","i":0,"x":0.07,"y":0.15},{"p":"D11","i":1,"x":0.07,"y":0.64},{"p":"D11","i":2,"x":0.07,"y":0.44},{"p":"D11","i":3,"x":0.25,"y":0.44},{"p":"D11","i":4,"x":0.42,"y":0.43},{"p":"D11","i":5,"x":0.48,"y":0.38},{"p":"D11","i":6,"x":0.52,"y":0.30},{"p":"D11","i":7,"x":0.48,"y":0.22},{"p":"D11","i":8,"x":0.37,"y":0.15},{"p":"D11","i":9,"x":0.23,"y":0.10},{"p":"D11","i":10,"x":0.15,"y":0.09},
{"p":"D11","i":11,"x":0.63,"y":0.09},{"p":"D11","i":12,"x":0.43,"y":0.09},{"p":"D11","i":13,"x":0.43,"y":0.20},{"p":"D11","i":14,"x":0.42,"y":0.35},{"p":"D11","i":15,"x":0.40,"y":0.46},{"p":"D11","i":16,"x":0.33,"y":0.52},{"p":"D11","i":17,"x":0.25,"y":0.51},{"p":"D11","i":18,"x":0.17,"y":0.43},{"p":"D11","i":19,"x":0.10,"y":0.30},{"p":"D11","i":20,"x":0.08,"y":0.18},{"p":"D11","i":21,"x":0.07,"y":0.15},

{"p":"D21","i":0,"x":0.07,"y":0.13},{"p":"D21","i":1,"x":0.07,"y":0.80},{"p":"D21","i":2,"x":0.07,"y":0.44},{"p":"D21","i":3,"x":0.25,"y":0.44},{"p":"D21","i":4,"x":0.43,"y":0.43},{"p":"D21","i":5,"x":0.50,"y":0.40},{"p":"D21","i":6,"x":0.54,"y":0.34},{"p":"D21","i":7,"x":0.50,"y":0.27},{"p":"D21","i":8,"x":0.37,"y":0.18},{"p":"D21","i":9,"x":0.20,"y":0.11},{"p":"D21","i":10,"x":0.10,"y":0.09},
{"p":"D21","i":11,"x":0.77,"y":0.09},{"p":"D21","i":12,"x":0.43,"y":0.09},{"p":"D21","i":13,"x":0.43,"y":0.23},{"p":"D21","i":14,"x":0.42,"y":0.41},{"p":"D21","i":15,"x":0.40,"y":0.53},{"p":"D21","i":16,"x":0.33,"y":0.56},{"p":"D21","i":17,"x":0.25,"y":0.54},{"p":"D21","i":18,"x":0.17,"y":0.46},{"p":"D21","i":19,"x":0.10,"y":0.31},{"p":"D21","i":20,"x":0.08,"y":0.15},{"p":"D21","i":21,"x":0.07,"y":0.13},

{"p":"D12","i":0,"x":0.10,"y":0.12},{"p":"D12","i":1,"x":0.40,"y":0.41},{"p":"D12","i":2,"x":0.71,"y":0.71},
{"p":"D22","i":0,"x":0.07,"y":0.09},{"p":"D22","i":1,"x":0.45,"y":0.47},{"p":"D22","i":2,"x":0.84,"y":0.86},
{"p":"D31","i":0,"x":0.08,"y":0.09},{"p":"D31","i":1,"x":0.49,"y":0.50},{"p":"D31","i":2,"x":0.91,"y":0.92},
{"p":"D32","i":0,"x":0.07,"y":0.09},{"p":"D32","i":1,"x":0.51,"y":0.52},{"p":"D32","i":2,"x":0.95,"y":0.95}
]
},
"resolve":{"legend":{"color":"independent","strokeDash":"independent"}},
"columns":5,
"spacing":24,
"bounds":"flush",
"concat":[
{"width":137,"height":66,"title":{"text":"g\u2002=0.001","dx":44,"offset":-10},"data":{"name":"ts"},"transform":[{"filter":"datum.p=='A11'"},{"fold":["x1","x2"],"as":["s","v"]},{"filter":"isValid(datum.v)"}],"mark":{"type":"line","strokeWidth":1.1},"encoding":{"x":{"field":"t","type":"quantitative","scale":{"domain":[0,100]},"axis":{"orient":"top","title":"c","titleX":51.5,"titleY":-4,"titleAlign":"left","titleBaseline":"alphabetic","titleFontSize":9}},"y":{"field":"v","type":"quantitative","scale":{"domain":[0,1]},"axis":{"title":"(a)","titleAngle":0,"titleX":-44,"titleY":-2,"titleAlign":"left","titleBaseline":"alphabetic","titleFontSize":17}},"color":{"field":"s","type":"nominal","scale":{"domain":["x1","x2"],"range":["#0000ff","#ff0000"]},"legend":null},"strokeDash":{"field":"s","type":"nominal","scale":{"domain":["x1","x2"],"range":[[1,0],[3,2]]},"legend":null}}},
{"width":137,"height":66,"title":{"text":"g\u2002=0.015","dx":33},"data":{"name":"ts"},"transform":[{"filter":"datum.p=='A12'"},{"fold":["x1","x2"],"as":["s","v"]},{"filter":"isValid(datum.v)"}],"mark":{"type":"line","strokeWidth":1.1},"encoding":{"x":{"field":"t","type":"quantitative","scale":{"domain":[0,100]},"axis":{"orient":"top","title":"c","titleX":40.5,"titleY":-4,"titleAlign":"left","titleBaseline":"alphabetic","titleFontSize":9}},"y":{"field":"v","type":"quantitative","scale":{"domain":[0,1]},"axis":{"orient":"right","title":"τ=10","titleAngle":0,"titleX":6,"titleY":34,"titleAlign":"left","titleBaseline":"middle","titleFontSize":13}},"color":{"field":"s","type":"nominal","scale":{"domain":["x1","x2"],"range":["#0000ff","#ff0000"]},"legend":null},"strokeDash":{"field":"s","type":"nominal","scale":{"domain":["x1","x2"],"range":[[1,0],[3,2]]},"legend":null}}},
{"width":61,"height":66,"data":{"values":[]},"mark":"point","view":{"stroke":null}},
{"width":137,"height":66,"title":{"text":"g\u2002=0.001","dx":37,"offset":-8},"data":{"name":"ph"},"transform":[{"filter":"datum.p=='B11'"}],"mark":{"type":"line","color":"#0000ff","strokeWidth":1.2},"encoding":{"x":{"field":"x","type":"quantitative","scale":{"domain":[0,1]},"axis":{"orient":"top","title":"c","titleX":44.5,"titleY":-4,"titleAlign":"left","titleBaseline":"alphabetic","titleFontSize":9}},"y":{"field":"y","type":"quantitative","scale":{"domain":[0,1]},"axis":{"title":"(b)","titleAngle":0,"titleX":-48,"titleY":0,"titleAlign":"left","titleBaseline":"alphabetic","titleFontSize":17}},"order":{"field":"i","type":"quantitative"}}},
{"width":137,"height":66,"title":{"text":"g\u2002=0.015","dx":26},"data":{"name":"ph"},"transform":[{"filter":"datum.p=='B12'"}],"mark":{"type":"line","color":"#0000ff","strokeWidth":1.2},"encoding":{"x":{"field":"x","type":"quantitative","scale":{"domain":[0,1]},"axis":{"orient":"top","title":"c","titleX":33.5,"titleY":-4,"titleAlign":"left","titleBaseline":"alphabetic","titleFontSize":9}},"y":{"field":"y","type":"quantitative","scale":{"domain":[0,1]},"axis":{"orient":"right","title":"τ=10","titleAngle":0,"titleX":5,"titleY":34,"titleAlign":"left","titleBaseline":"middle","titleFontSize":13}},"order":{"field":"i","type":"quantitative"}}},

{"width":137,"height":66,"data":{"name":"ts"},"transform":[{"filter":"datum.p=='A21'"},{"fold":["x1","x2"],"as":["s","v"]},{"filter":"isValid(datum.v)"}],"mark":{"type":"line","strokeWidth":1.1},"encoding":{"x":{"field":"t","type":"quantitative","scale":{"domain":[0,100]},"axis":null},"y":{"field":"v","type":"quantitative","scale":{"domain":[0,1]},"axis":{"title":"x\u2081, x\u2082","titleAngle":-90,"titleX":-14,"titleY":37,"titleAlign":"center","titleBaseline":"alphabetic","titleFontSize":14}},"color":{"field":"s","type":"nominal","scale":{"domain":["x1","x2"],"range":["#0000ff","#ff0000"]},"legend":null},"strokeDash":{"field":"s","type":"nominal","scale":{"domain":["x1","x2"],"range":[[1,0],[3,2]]},"legend":null}}},
{"width":137,"height":66,"data":{"name":"ts"},"transform":[{"filter":"datum.p=='A22'"},{"fold":["x1","x2"],"as":["s","v"]},{"filter":"isValid(datum.v)"}],"mark":{"type":"line","strokeWidth":1.1},"encoding":{"x":{"field":"t","type":"quantitative","scale":{"domain":[0,100]},"axis":null},"y":{"field":"v","type":"quantitative","scale":{"domain":[0,1]},"axis":{"orient":"right","title":"τ=30","titleAngle":0,"titleX":6,"titleY":35,"titleAlign":"left","titleBaseline":"middle","titleFontSize":13}},"color":{"field":"s","type":"nominal","scale":{"domain":["x1","x2"],"range":["#0000ff","#ff0000"]},"legend":null},"strokeDash":{"field":"s","type":"nominal","scale":{"domain":["x1","x2"],"range":[[1,0],[3,2]]},"legend":null}}},
{"width":61,"height":66,"data":{"values":[]},"mark":"point","view":{"stroke":null}},
{"width":137,"height":66,"data":{"name":"ph"},"transform":[{"filter":"datum.p=='B21'"}],"mark":{"type":"line","color":"#0000ff","strokeWidth":1.2},"encoding":{"x":{"field":"x","type":"quantitative","scale":{"domain":[0,1]},"axis":null},"y":{"field":"y","type":"quantitative","scale":{"domain":[0,1]},"axis":{"title":"x\u2082","titleAngle":-90,"titleX":-17,"titleY":33,"titleAlign":"center","titleBaseline":"alphabetic","titleFontSize":14}},"order":{"field":"i","type":"quantitative"}}},
{"width":137,"height":66,"data":{"name":"ph"},"transform":[{"filter":"datum.p=='B22'"}],"mark":{"type":"line","color":"#0000ff","strokeWidth":1.2},"encoding":{"x":{"field":"x","type":"quantitative","scale":{"domain":[0,1]},"axis":null},"y":{"field":"y","type":"quantitative","scale":{"domain":[0,1]},"axis":{"orient":"right","title":"τ=30","titleAngle":0,"titleX":5,"titleY":35,"titleAlign":"left","titleBaseline":"middle","titleFontSize":13}},"order":{"field":"i","type":"quantitative"}}},

{"width":137,"height":66,"data":{"name":"ts"},"transform":[{"filter":"datum.p=='A31'"},{"fold":["x1","x2"],"as":["s","v"]},{"filter":"isValid(datum.v)"}],"mark":{"type":"line","strokeWidth":1.1},"encoding":{"x":{"field":"t","type":"quantitative","scale":{"domain":[0,100]},"axis":{"title":"time","titleX":149,"titleY":22,"titleAlign":"center","titleBaseline":"alphabetic","titleFontSize":15}},"y":{"field":"v","type":"quantitative","scale":{"domain":[0,1]},"axis":null},"color":{"field":"s","type":"nominal","scale":{"domain":["x1","x2"],"range":["#0000ff","#ff0000"]},"legend":null},"strokeDash":{"field":"s","type":"nominal","scale":{"domain":["x1","x2"],"range":[[1,0],[3,2]]},"legend":null}}},
{"width":137,"height":66,"data":{"name":"ts"},"transform":[{"filter":"datum.p=='A32'"},{"fold":["x1","x2"],"as":["s","v"]},{"filter":"isValid(datum.v)"}],"mark":{"type":"line","strokeWidth":1.1},"encoding":{"x":{"field":"t","type":"quantitative","scale":{"domain":[0,100]},"axis":null},"y":{"field":"v","type":"quantitative","scale":{"domain":[0,1]},"axis":{"orient":"right","title":"τ=50","titleAngle":0,"titleX":6,"titleY":31,"titleAlign":"left","titleBaseline":"middle","titleFontSize":13}},"color":{"field":"s","type":"nominal","scale":{"domain":["x1","x2"],"range":["#0000ff","#ff0000"]},"legend":{"orient":"none","legendX":41,"legendY":67,"direction":"horizontal","title":null,"strokeColor":"#000","fillColor":"#fff","padding":5,"symbolType":"M-2.5,0H2.5","symbolSize":144,"symbolOffset":10,"symbolStrokeWidth":1,"labelFontSize":10,"labelColor":"#333","labelOffset":11,"columnPadding":6,"labelExpr":"datum.value=='x1'?'x\u2081':'x\u2082'"}},"strokeDash":{"field":"s","type":"nominal","scale":{"domain":["x1","x2"],"range":[[1,0],[3,2]]},"legend":{"orient":"none","legendX":41,"legendY":67,"direction":"horizontal","title":null,"strokeColor":"#000","fillColor":"#fff","padding":5,"symbolType":"M-2.5,0H2.5","symbolSize":144,"symbolOffset":10,"symbolStrokeWidth":1,"labelFontSize":10,"labelColor":"#333","labelOffset":11,"columnPadding":6,"labelExpr":"datum.value=='x1'?'x\u2081':'x\u2082'"}}}},
{"width":61,"height":66,"data":{"values":[]},"mark":"point","view":{"stroke":null}},
{"width":137,"height":66,"data":{"name":"ph"},"transform":[{"filter":"datum.p=='B31'"}],"mark":{"type":"line","color":"#0000ff","strokeWidth":1.2},"encoding":{"x":{"field":"x","type":"quantitative","scale":{"domain":[0,1]},"axis":{"title":"x\u2081","titleX":152,"titleY":20,"titleAlign":"center","titleBaseline":"alphabetic","titleFontSize":14}},"y":{"field":"y","type":"quantitative","scale":{"domain":[0,1]},"axis":null},"order":{"field":"i","type":"quantitative"}}},
{"width":137,"height":66,"data":{"name":"ph"},"transform":[{"filter":"datum.p=='B32'"}],"mark":{"type":"line","color":"#0000ff","strokeWidth":1.2},"encoding":{"x":{"field":"x","type":"quantitative","scale":{"domain":[0,1]},"axis":null},"y":{"field":"y","type":"quantitative","scale":{"domain":[0,1]},"axis":{"orient":"right","title":"τ=50","titleAngle":0,"titleX":5,"titleY":33,"titleAlign":"left","titleBaseline":"middle","titleFontSize":13}},"order":{"field":"i","type":"quantitative"}}},

{"width":1,"height":73,"data":{"values":[]},"mark":"point","view":{"stroke":null}},
{"width":1,"height":73,"data":{"values":[]},"mark":"point","view":{"stroke":null}},
{"width":61,"height":73,"data":{"values":[]},"mark":"point","view":{"stroke":null}},
{"width":1,"height":73,"data":{"values":[]},"mark":"point","view":{"stroke":null}},
{"width":1,"height":73,"data":{"values":[]},"mark":"point","view":{"stroke":null}},

{"width":137,"height":66,"title":{"text":"g\u2002=0.03","dx":44,"offset":-11},"data":{"name":"ts"},"transform":[{"filter":"datum.p=='C11'"},{"fold":["x1","x2"],"as":["s","v"]},{"filter":"isValid(datum.v)"}],"mark":{"type":"line","strokeWidth":1.1},"encoding":{"x":{"field":"t","type":"quantitative","scale":{"domain":[0,100]},"axis":{"orient":"top","title":"c","titleX":51.5,"titleY":-4,"titleAlign":"left","titleBaseline":"alphabetic","titleFontSize":9}},"y":{"field":"v","type":"quantitative","scale":{"domain":[0,1]},"axis":{"title":"(c)","titleAngle":0,"titleX":-50,"titleY":-4,"titleAlign":"left","titleBaseline":"alphabetic","titleFontSize":17}},"color":{"field":"s","type":"nominal","scale":{"domain":["x1","x2"],"range":["#0000ff","#ff0000"]},"legend":null},"strokeDash":{"field":"s","type":"nominal","scale":{"domain":["x1","x2"],"range":[[1,0],[3,2]]},"legend":null}}},
{"width":137,"height":66,"title":{"text":"g\u2002=0.035","dx":0},"data":{"name":"ts"},"transform":[{"filter":"datum.p=='C12'"},{"fold":["x1","x2"],"as":["s","v"]},{"filter":"isValid(datum.v)"}],"mark":{"type":"line","strokeWidth":1.1},"encoding":{"x":{"field":"t","type":"quantitative","scale":{"domain":[0,100]},"axis":{"orient":"top","title":"c","titleX":7.5,"titleY":-4,"titleAlign":"left","titleBaseline":"alphabetic","titleFontSize":9}},"y":{"field":"v","type":"quantitative","scale":{"domain":[0,1]},"axis":{"orient":"right","title":"τ=10","titleAngle":0,"titleX":7,"titleY":36,"titleAlign":"left","titleBaseline":"middle","titleFontSize":13}},"color":{"field":"s","type":"nominal","scale":{"domain":["x1","x2"],"range":["#0000ff","#ff0000"]},"legend":null},"strokeDash":{"field":"s","type":"nominal","scale":{"domain":["x1","x2"],"range":[[1,0],[3,2]]},"legend":null}}},
{"width":61,"height":66,"data":{"values":[]},"mark":"point","view":{"stroke":null}},
{"width":137,"height":66,"title":{"text":"g\u2002=0.03","dx":35,"offset":-11},"data":{"name":"ph"},"transform":[{"filter":"datum.p=='D11'"}],"mark":{"type":"line","color":"#0000ff","strokeWidth":1.2},"encoding":{"x":{"field":"x","type":"quantitative","scale":{"domain":[0,1]},"axis":{"orient":"top","title":"c","titleX":42.5,"titleY":-4,"titleAlign":"left","titleBaseline":"alphabetic","titleFontSize":9}},"y":{"field":"y","type":"quantitative","scale":{"domain":[0,1]},"axis":{"title":"(d)","titleAngle":0,"titleX":-48,"titleY":-4,"titleAlign":"left","titleBaseline":"alphabetic","titleFontSize":17}},"order":{"field":"i","type":"quantitative"}}},
{"width":137,"height":66,"title":{"text":"g\u2002=0.035","dx":34},"data":{"name":"ph"},"transform":[{"filter":"datum.p=='D12'"}],"mark":{"type":"line","color":"#0000ff","strokeWidth":2.4},"encoding":{"x":{"field":"x","type":"quantitative","scale":{"domain":[0,1]},"axis":{"orient":"top","title":"c","titleX":41.5,"titleY":-4,"titleAlign":"left","titleBaseline":"alphabetic","titleFontSize":9}},"y":{"field":"y","type":"quantitative","scale":{"domain":[0,1]},"axis":{"orient":"right","title":"τ=10","titleAngle":0,"titleX":9,"titleY":35,"titleAlign":"left","titleBaseline":"middle","titleFontSize":13}},"order":{"field":"i","type":"quantitative"}}},

{"width":137,"height":66,"data":{"name":"ts"},"transform":[{"filter":"datum.p=='C21'"},{"fold":["x1","x2"],"as":["s","v"]},{"filter":"isValid(datum.v)"}],"mark":{"type":"line","strokeWidth":1.1},"encoding":{"x":{"field":"t","type":"quantitative","scale":{"domain":[0,100]},"axis":null},"y":{"field":"v","type":"quantitative","scale":{"domain":[0,1]},"axis":{"title":"x\u2081, x\u2082","titleAngle":-90,"titleX":-17,"titleY":37,"titleAlign":"center","titleBaseline":"alphabetic","titleFontSize":14}},"color":{"field":"s","type":"nominal","scale":{"domain":["x1","x2"],"range":["#0000ff","#ff0000"]},"legend":null},"strokeDash":{"field":"s","type":"nominal","scale":{"domain":["x1","x2"],"range":[[1,0],[3,2]]},"legend":null}}},
{"width":137,"height":66,"data":{"name":"ts"},"transform":[{"filter":"datum.p=='C22'"},{"fold":["x1","x2"],"as":["s","v"]},{"filter":"isValid(datum.v)"}],"mark":{"type":"line","strokeWidth":1.1},"encoding":{"x":{"field":"t","type":"quantitative","scale":{"domain":[0,100]},"axis":null},"y":{"field":"v","type":"quantitative","scale":{"domain":[0,1]},"axis":{"orient":"right","title":"τ=30","titleAngle":0,"titleX":7,"titleY":35,"titleAlign":"left","titleBaseline":"middle","titleFontSize":13}},"color":{"field":"s","type":"nominal","scale":{"domain":["x1","x2"],"range":["#0000ff","#ff0000"]},"legend":null},"strokeDash":{"field":"s","type":"nominal","scale":{"domain":["x1","x2"],"range":[[1,0],[3,2]]},"legend":null}}},
{"width":61,"height":66,"data":{"values":[]},"mark":"point","view":{"stroke":null}},
{"width":137,"height":66,"data":{"name":"ph"},"transform":[{"filter":"datum.p=='D21'"}],"mark":{"type":"line","color":"#0000ff","strokeWidth":1.2},"encoding":{"x":{"field":"x","type":"quantitative","scale":{"domain":[0,1]},"axis":null},"y":{"field":"y","type":"quantitative","scale":{"domain":[0,1]},"axis":{"title":"x\u2082","titleAngle":-90,"titleX":-15,"titleY":34,"titleAlign":"center","titleBaseline":"alphabetic","titleFontSize":14}},"order":{"field":"i","type":"quantitative"}}},
{"width":137,"height":66,"data":{"name":"ph"},"transform":[{"filter":"datum.p=='D22'"}],"mark":{"type":"line","color":"#0000ff","strokeWidth":2.4},"encoding":{"x":{"field":"x","type":"quantitative","scale":{"domain":[0,1]},"axis":null},"y":{"field":"y","type":"quantitative","scale":{"domain":[0,1]},"axis":{"orient":"right","title":"τ=30","titleAngle":0,"titleX":9,"titleY":35,"titleAlign":"left","titleBaseline":"middle","titleFontSize":13}},"order":{"field":"i","type":"quantitative"}}},

{"width":137,"height":66,"data":{"name":"ts"},"transform":[{"filter":"datum.p=='C31'"},{"fold":["x1","x2"],"as":["s","v"]},{"filter":"isValid(datum.v)"}],"mark":{"type":"line","strokeWidth":1.1},"encoding":{"x":{"field":"t","type":"quantitative","scale":{"domain":[0,100]},"axis":{"title":"time","titleX":149,"titleY":19,"titleAlign":"center","titleBaseline":"alphabetic","titleFontSize":15}},"y":{"field":"v","type":"quantitative","scale":{"domain":[0,1]},"axis":null},"color":{"field":"s","type":"nominal","scale":{"domain":["x1","x2"],"range":["#0000ff","#ff0000"]},"legend":null},"strokeDash":{"field":"s","type":"nominal","scale":{"domain":["x1","x2"],"range":[[1,0],[3,2]]},"legend":null}}},
{"width":137,"height":66,"data":{"name":"ts"},"transform":[{"filter":"datum.p=='C32'"},{"fold":["x1","x2"],"as":["s","v"]},{"filter":"isValid(datum.v)"}],"mark":{"type":"line","strokeWidth":1.1},"encoding":{"x":{"field":"t","type":"quantitative","scale":{"domain":[0,100]},"axis":null},"y":{"field":"v","type":"quantitative","scale":{"domain":[0,1]},"axis":{"orient":"right","title":"τ=50","titleAngle":0,"titleX":7,"titleY":35,"titleAlign":"left","titleBaseline":"middle","titleFontSize":13}},"color":{"field":"s","type":"nominal","scale":{"domain":["x1","x2"],"range":["#0000ff","#ff0000"]},"legend":{"orient":"none","legendX":49,"legendY":72,"direction":"horizontal","title":null,"strokeColor":"#000","fillColor":"#fff","padding":5,"symbolType":"M-2.5,0H2.5","symbolSize":144,"symbolOffset":10,"symbolStrokeWidth":1,"labelFontSize":10,"labelColor":"#333","labelOffset":11,"columnPadding":6,"labelExpr":"datum.value=='x1'?'x\u2081':'x\u2082'"}},"strokeDash":{"field":"s","type":"nominal","scale":{"domain":["x1","x2"],"range":[[1,0],[3,2]]},"legend":{"orient":"none","legendX":49,"legendY":72,"direction":"horizontal","title":null,"strokeColor":"#000","fillColor":"#fff","padding":5,"symbolType":"M-2.5,0H2.5","symbolSize":144,"symbolOffset":10,"symbolStrokeWidth":1,"labelFontSize":10,"labelColor":"#333","labelOffset":11,"columnPadding":6,"labelExpr":"datum.value=='x1'?'x\u2081':'x\u2082'"}}}},
{"width":61,"height":66,"data":{"values":[]},"mark":"point","view":{"stroke":null}},
{"width":137,"height":66,"data":{"name":"ph"},"transform":[{"filter":"datum.p=='D31'"}],"mark":{"type":"line","color":"#0000ff","strokeWidth":2.4},"encoding":{"x":{"field":"x","type":"quantitative","scale":{"domain":[0,1]},"axis":{"title":"x\u2081","titleX":152,"titleY":20,"titleAlign":"center","titleBaseline":"alphabetic","titleFontSize":14}},"y":{"field":"y","type":"quantitative","scale":{"domain":[0,1]},"axis":null},"order":{"field":"i","type":"quantitative"}}},
{"width":137,"height":66,"data":{"name":"ph"},"transform":[{"filter":"datum.p=='D32'"}],"mark":{"type":"line","color":"#0000ff","strokeWidth":2.4},"encoding":{"x":{"field":"x","type":"quantitative","scale":{"domain":[0,1]},"axis":null},"y":{"field":"y","type":"quantitative","scale":{"domain":[0,1]},"axis":{"orient":"right","title":"τ=50","titleAngle":0,"titleX":9,"titleY":35,"titleAlign":"left","titleBaseline":"middle","titleFontSize":13}},"order":{"field":"i","type":"quantitative"}}}
]
}
